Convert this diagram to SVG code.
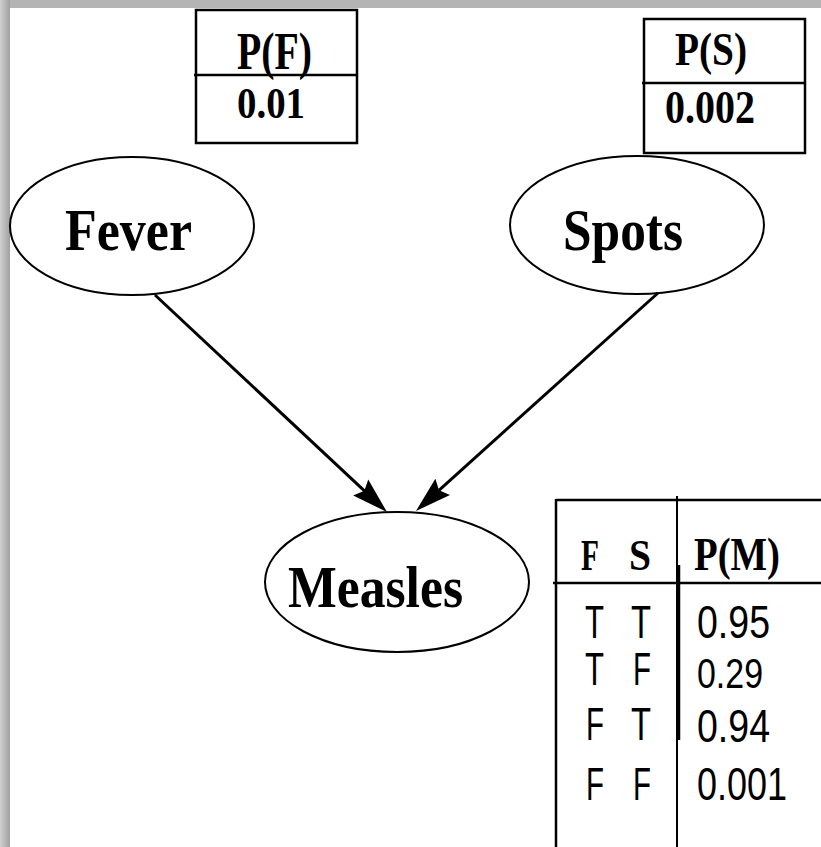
<svg xmlns="http://www.w3.org/2000/svg" width="821" height="847" viewBox="0 0 821 847">
<defs>
<linearGradient id="gL" x1="0" y1="0" x2="1" y2="0"><stop offset="0" stop-color="#d0d0d0"/><stop offset="1" stop-color="#a0a0a0"/></linearGradient>
<marker id="ah" markerUnits="userSpaceOnUse" viewBox="0 0 36 24" refX="26" refY="12" markerWidth="36" markerHeight="24" orient="auto"><path d="M0,1 L36,12 L0,23 L5,12 z" fill="#000"/></marker>
<style>
.nd{fill:#fff;stroke:#000;stroke-width:2}
.tb{fill:none;stroke:#000;stroke-width:2.5}
.lbl{font-family:"Liberation Serif","Times New Roman",serif;font-weight:bold;fill:#000}
.cell{font-family:"Liberation Sans",Arial,sans-serif;fill:#000}
.edge{stroke:#000;stroke-width:3;fill:none;marker-end:url(#ah)}
</style>
</defs>
<rect x="0" y="0" width="821" height="847" fill="#fff"/>
<rect x="0" y="0" width="821" height="8" fill="#b4b4b4"/>
<rect x="0" y="0" width="10" height="847" fill="url(#gL)"/>

<g id="cpt-fever">
<rect class="tb" x="196" y="10" width="161" height="133"/>
<line class="tb" x1="194" y1="75" x2="357" y2="75"/>
<text class="lbl" x="237" y="69" font-size="52" textLength="75" lengthAdjust="spacingAndGlyphs">P(F)</text>
<text class="lbl" x="237" y="118" font-size="45" textLength="68" lengthAdjust="spacingAndGlyphs">0.01</text>
</g>

<g id="cpt-spots">
<rect class="tb" x="644" y="19" width="161" height="134"/>
<line class="tb" x1="642" y1="83" x2="805" y2="83"/>
<text class="lbl" x="675" y="65" font-size="46" textLength="72" lengthAdjust="spacingAndGlyphs">P(S)</text>
<text class="lbl" x="665" y="123" font-size="46" textLength="90" lengthAdjust="spacingAndGlyphs">0.002</text>
</g>

<g id="fever">
<ellipse class="nd" cx="132" cy="226" rx="122" ry="69"/>
<text class="lbl" x="65" y="250" font-size="60" textLength="127" lengthAdjust="spacingAndGlyphs">Fever</text>
</g>

<g id="spots">
<ellipse class="nd" cx="637" cy="225" rx="127" ry="69"/>
<text class="lbl" x="563" y="250" font-size="60" textLength="120" lengthAdjust="spacingAndGlyphs">Spots</text>
</g>

<g id="measles">
<ellipse class="nd" cx="397" cy="582" rx="132" ry="70"/>
<text class="lbl" x="288" y="607" font-size="60" textLength="175" lengthAdjust="spacingAndGlyphs">Measles</text>
</g>

<g id="connectors">
<line class="edge" x1="155" y1="295" x2="379.7" y2="505.2"/>
<line class="edge" x1="658" y1="293" x2="423.4" y2="504.3"/>
</g>

<g id="cpt-measles">
<line class="tb" x1="556" y1="500" x2="821" y2="500"/>
<line class="tb" x1="556" y1="499" x2="556" y2="847"/>
<line class="tb" x1="553" y1="583" x2="821" y2="583"/>
<line x1="677" y1="496" x2="677" y2="847" stroke="#000" stroke-width="2"/>
<line x1="679" y1="565" x2="679" y2="740" stroke="#000" stroke-width="2.5"/>
<text class="lbl" x="581" y="570" font-size="44" textLength="18" lengthAdjust="spacingAndGlyphs">F</text>
<text class="lbl" x="629" y="570" font-size="44" textLength="22" lengthAdjust="spacingAndGlyphs">S</text>
<text class="lbl" x="694" y="570" font-size="46" textLength="86" lengthAdjust="spacingAndGlyphs">P(M)</text>
<g class="cell" font-size="46">
<text x="585" y="638" textLength="19" lengthAdjust="spacingAndGlyphs">T</text>
<text x="631" y="638" textLength="20" lengthAdjust="spacingAndGlyphs">T</text>
<text x="697" y="638" textLength="73" lengthAdjust="spacingAndGlyphs">0.95</text>
<text x="585" y="685" textLength="19" lengthAdjust="spacingAndGlyphs">T</text>
<text x="633" y="685" textLength="18" lengthAdjust="spacingAndGlyphs">F</text>
<text x="697" y="688" font-size="42" textLength="66" lengthAdjust="spacingAndGlyphs">0.29</text>
<text x="586" y="740" textLength="18" lengthAdjust="spacingAndGlyphs">F</text>
<text x="631" y="740" textLength="20" lengthAdjust="spacingAndGlyphs">T</text>
<text x="697" y="742" textLength="73" lengthAdjust="spacingAndGlyphs">0.94</text>
<text x="586" y="800" textLength="18" lengthAdjust="spacingAndGlyphs">F</text>
<text x="633" y="800" textLength="18" lengthAdjust="spacingAndGlyphs">F</text>
<text x="697" y="800" textLength="90" lengthAdjust="spacingAndGlyphs">0.001</text>
</g>
</g>
</svg>
